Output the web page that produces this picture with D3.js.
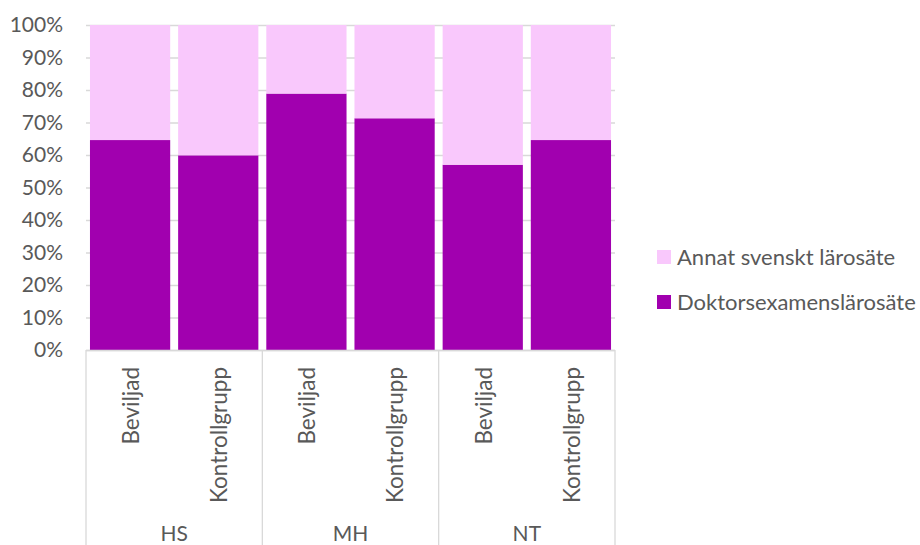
<!DOCTYPE html>
<html><head><meta charset="utf-8">
<script src="https://cdn.jsdelivr.net/npm/d3@7"></script>
<style>body{margin:0;background:#fff}svg{display:block}text{font-family:Lato,"Open Sans",sans-serif;fill:#595959}</style>
</head><body><svg width="920" height="545"></svg>
<script>
const groups = ["HS","HS","MH","MH","NT","NT"];
const groupNames = ["HS","MH","NT"];
const subcats = ["Beviljad","Kontrollgrupp","Beviljad","Kontrollgrupp","Beviljad","Kontrollgrupp"];
const doktor = [0.646,0.599,0.789,0.713,0.570,0.646];
const annat = doktor.map(v=>1-v);
const seriesNames = ["Annat svenskt lärosäte","Doktorsexamenslärosäte"];
const colors = {"Doktorsexamenslärosäte":"#A100AF","Annat svenskt lärosäte":"#F9C8FC"};
const yTicks = [0,0.1,0.2,0.3,0.4,0.5,0.6,0.7,0.8,0.9,1.0];

const svg = d3.select("svg");
const L=86,R=615,T=25,B=350;
const idx = d3.range(subcats.length);
const x = d3.scaleBand().domain(idx).range([L,R]).paddingInner(0.09).paddingOuter(0.045);
const xOuter = d3.scaleBand().domain(idx).range([L,R]);
const y = d3.scaleLinear().domain([0,1]).range([B,T]);

// gridlines
svg.append("g").selectAll("line").data(yTicks).join("line")
  .attr("x1",L).attr("x2",R).attr("y1",d=>y(d)+0.5).attr("y2",d=>y(d)+0.5)
  .attr("stroke","#D9D9D9").attr("stroke-width",1.3);

// y labels
svg.append("g").selectAll("text").data(yTicks).join("text")
  .attr("x",63).attr("y",d=>y(d)).attr("dy","0.35em").attr("text-anchor","end")
  .style("font-size","21px").text(d3.format(".0%"));

// bars
const stackData = idx.map(i=>({i, "Doktorsexamenslärosäte":doktor[i], "Annat svenskt lärosäte":annat[i]}));
const stack = d3.stack().keys(["Doktorsexamenslärosäte","Annat svenskt lärosäte"])(stackData);
svg.append("g").selectAll("g").data(stack).join("g").attr("fill",s=>colors[s.key])
  .selectAll("rect").data(s=>s).join("rect")
  .attr("x",d=>x(d.data.i)).attr("width",x.bandwidth())
  .attr("y",d=>y(d[1])).attr("height",d=>y(d[0])-y(d[1]));

// category axis box
const ax = svg.append("g").attr("stroke","#D9D9D9").attr("stroke-width",1.3);
ax.append("line").attr("x1",L).attr("x2",R).attr("y1",B+0.5).attr("y2",B+0.5);
const bounds = [0,2,4,6].map(k=> k<6 ? xOuter(k) : R);
ax.selectAll("line.v").data(bounds).join("line").attr("class","v")
  .attr("x1",d=>d).attr("x2",d=>d).attr("y1",B).attr("y2",545);

// sub category labels rotated
svg.append("g").selectAll("text").data(idx).join("text")
  .attr("transform",i=>`translate(${x(i)+x.bandwidth()/2+1},367) rotate(-90)`)
  .attr("dy","0.35em").attr("text-anchor","end").style("font-size","22.5px")
  .text(i=>subcats[i]);

// group labels
svg.append("g").selectAll("text").data(groupNames).join("text")
  .attr("x",(g,k)=>(bounds[k]+bounds[k+1])/2).attr("y",534).attr("dy","0.35em")
  .attr("text-anchor","middle").style("font-size","21px").text(d=>d);

// legend
const lg = svg.append("g").selectAll("g").data(seriesNames).join("g")
  .attr("transform",(d,k)=>`translate(657,${250+k*45})`);
lg.append("rect").attr("width",14).attr("height",14).attr("fill",d=>colors[d]);
lg.append("text").attr("x",20).attr("y",7).attr("dy","0.35em").style("font-size","22px").text(d=>d);
</script></body></html>
